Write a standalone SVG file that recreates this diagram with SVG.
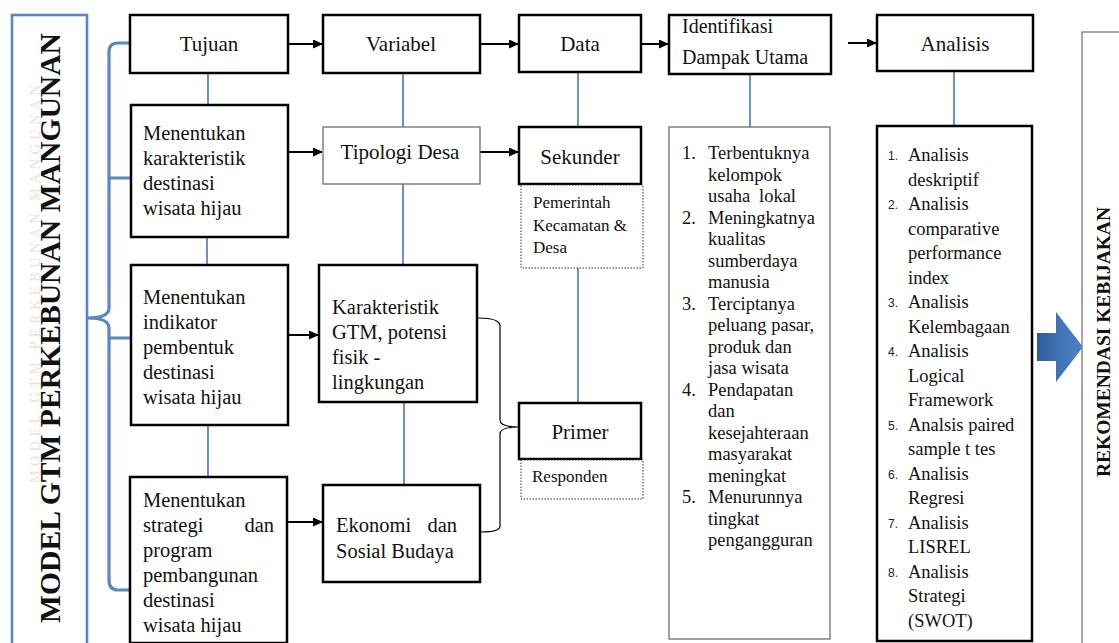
<svg xmlns="http://www.w3.org/2000/svg" width="1119" height="643" viewBox="0 0 1119 643">
<defs>
<style>
.box{fill:#fff;stroke:#000;stroke-width:2.5}
.thin{fill:#fff;stroke:#6e6e6e;stroke-width:1.3}
.dot{fill:#fff;stroke:#333;stroke-width:1;stroke-dasharray:1.5 1.5}
.t{font-family:"Liberation Serif","Times New Roman",serif;fill:#111}
.h{font-size:21px}
.b{font-size:20.5px}
.s{font-size:17px}
.l{font-size:18.5px}
.n{font-family:"Liberation Sans",Arial,sans-serif;font-size:12px;fill:#222}
.blue{fill:none;stroke:#5a86c3;stroke-width:1.8}
.brace{fill:none;stroke:#5a86c3;stroke-width:3.2;stroke-linejoin:round}
.arr{fill:none;stroke:#000;stroke-width:2;marker-end:url(#ah)}
</style>
<marker id="ah" markerUnits="userSpaceOnUse" markerWidth="10" markerHeight="10" refX="9" refY="4.5" orient="auto"><path d="M0,0 L10,4.5 L0,9 z" fill="#000"/></marker>
<linearGradient id="bg" x1="0" y1="0" x2="1" y2="0"><stop offset="0" stop-color="#2d5c9c"/><stop offset="0.45" stop-color="#3f72b3"/><stop offset="1" stop-color="#4f84c4"/></linearGradient>
</defs>
<rect width="1119" height="643" fill="#fff"/>

<g id="title">
<rect x="12" y="15" width="75" height="640" fill="#fff" stroke="#5a86c3" stroke-width="2.6"/>
<text class="t" transform="translate(40,284) rotate(-90)" text-anchor="middle" font-size="14" style="fill:#e4e4e4" textLength="398">MODEL GTM PERKEBUNAN MANGUNAN</text>
<text class="t" transform="translate(60,328) rotate(-90)" text-anchor="middle" font-size="29.5" font-weight="bold" textLength="590" lengthAdjust="spacingAndGlyphs">MODEL GTM PERKEBUNAN MANGUNAN</text>
</g>

<g id="connectors">
<path class="brace" d="M130,43 L118,43 Q109,43 109,52 L109,308 Q109,318 88,318 Q109,318 109,328 L109,580 Q109,590 118,590 L130,590"/>
<path class="brace" d="M109,178 L131,178 M109,338 L131,338"/>
<path class="blue" d="M208,73 V105 M207,237 V265 M208,425 V477 M403,73 V127 M403,184 V265 M404,402 V485 M578,72 V127 M578,268 V403 M750,74 V127 M954,71 V126"/>
<path class="arr" d="M288,44 H322"/>
<path class="arr" d="M480,44 H518"/>
<path class="arr" d="M641,44 H668"/>
<path class="arr" d="M848,43 H876"/>
<path class="arr" d="M288,152 H322"/>
<path class="arr" d="M480,152 H518"/>
<path class="arr" d="M288,335 H318"/>
<path class="arr" d="M287,522 H322"/>
<path d="M478,318 Q500,318 500,326 L500,420 Q500,427 519,427 Q500,427 500,434 L500,526 Q500,532 481,532" fill="none" stroke="#000" stroke-width="1.2"/>
<path d="M1037,333 H1056 V312 L1083,347 L1056,382 V361 H1037 Z" fill="url(#bg)"/>
</g>

<g id="tujuan"><rect class="box" x="130" y="15" width="158" height="58"/><text class="t h" x="209" y="51" text-anchor="middle">Tujuan</text></g>
<g id="variabel"><rect class="box" x="323" y="15" width="157" height="58"/><text class="t h" x="401" y="51" text-anchor="middle">Variabel</text></g>
<g id="data"><rect class="box" x="519" y="15" width="122" height="57"/><text class="t h" x="580" y="51" text-anchor="middle">Data</text></g>
<g id="identifikasi"><rect class="box" x="669" y="15" width="162" height="59"/><text class="t" font-size="20" x="682" y="33">Identifikasi</text><text class="t" font-size="20" x="682" y="64">Dampak Utama</text></g>
<g id="analisis"><rect class="box" x="877" y="15" width="156" height="56"/><text class="t h" x="955" y="51" text-anchor="middle">Analisis</text></g>

<g id="tujuan1"><rect class="box" x="131" y="105" width="157" height="132"/>
<text class="t b" x="143" y="140">Menentukan</text><text class="t b" x="143" y="165">karakteristik</text><text class="t b" x="143" y="190">destinasi</text><text class="t b" x="143" y="215">wisata hijau</text></g>
<g id="tujuan2"><rect class="box" x="131" y="265" width="157" height="160"/>
<text class="t b" x="143" y="304">Menentukan</text><text class="t b" x="143" y="329">indikator</text><text class="t b" x="143" y="354">pembentuk</text><text class="t b" x="143" y="379">destinasi</text><text class="t b" x="143" y="404">wisata hijau</text></g>
<g id="tujuan3"><rect class="box" x="130" y="477" width="157" height="166"/>
<text class="t b" x="143" y="507">Menentukan</text><text class="t b" x="143" y="532">strategi</text><text class="t b" x="274" y="532" text-anchor="end">dan</text><text class="t b" x="143" y="557">program</text><text class="t b" x="143" y="582">pembangunan</text><text class="t b" x="143" y="607">destinasi</text><text class="t b" x="143" y="632">wisata hijau</text></g>

<g id="tipologi"><rect class="thin" x="323" y="127" width="157" height="57"/><text class="t h" x="400" y="159" text-anchor="middle">Tipologi Desa</text></g>
<g id="karakteristik"><rect class="box" x="319" y="265" width="158" height="137"/>
<text class="t b" x="332" y="314">Karakteristik</text><text class="t b" x="332" y="339">GTM, potensi</text><text class="t b" x="332" y="364">fisik -</text><text class="t b" x="332" y="389">lingkungan</text></g>
<g id="ekonomi"><rect class="box" x="323" y="485" width="157" height="97"/>
<text class="t b" x="336" y="532">Ekonomi</text><text class="t b" x="457" y="532" text-anchor="end">dan</text><text class="t b" x="336" y="558">Sosial Budaya</text></g>

<g id="sekunder"><rect class="box" x="519" y="127" width="122" height="57"/><text class="t h" x="580" y="164" text-anchor="middle">Sekunder</text>
<rect class="dot" x="521" y="185" width="122" height="83"/>
<text class="t s" x="533" y="208">Pemerintah</text><text class="t s" x="533" y="231">Kecamatan &amp;</text><text class="t s" x="533" y="253">Desa</text></g>
<g id="primer"><rect class="box" x="519" y="403" width="122" height="56"/><text class="t h" x="580" y="439" text-anchor="middle">Primer</text>
<rect class="dot" x="521" y="460" width="122" height="39"/>
<text class="t s" x="532" y="482">Responden</text></g>

<g id="dampak"><rect class="thin" x="669" y="127" width="161" height="512"/>
<text class="t l" x="682" y="159">1.</text><text class="t l" x="708" y="159">Terbentuknya</text>
<text class="t l" x="708" y="180.5">kelompok</text>
<text class="t l" x="708" y="202">usaha</text><text class="t l" x="759" y="202">lokal</text>
<text class="t l" x="682" y="223.5">2.</text><text class="t l" x="708" y="223.5">Meningkatnya</text>
<text class="t l" x="708" y="245">kualitas</text>
<text class="t l" x="708" y="266.5">sumberdaya</text>
<text class="t l" x="708" y="288">manusia</text>
<text class="t l" x="682" y="309.5">3.</text><text class="t l" x="708" y="309.5">Terciptanya</text>
<text class="t l" x="708" y="331">peluang pasar,</text>
<text class="t l" x="708" y="352.5">produk dan</text>
<text class="t l" x="708" y="374">jasa wisata</text>
<text class="t l" x="682" y="395.5">4.</text><text class="t l" x="708" y="395.5">Pendapatan</text>
<text class="t l" x="708" y="417">dan</text>
<text class="t l" x="708" y="438.5">kesejahteraan</text>
<text class="t l" x="708" y="460">masyarakat</text>
<text class="t l" x="708" y="481.5">meningkat</text>
<text class="t l" x="682" y="503">5.</text><text class="t l" x="708" y="503">Menurunnya</text>
<text class="t l" x="708" y="524.5">tingkat</text>
<text class="t l" x="708" y="546">pengangguran</text></g>

<g id="metode"><rect class="box" x="877" y="126" width="155" height="515"/>
<text class="n" x="888" y="160">1.</text><text class="t l" x="908" y="161">Analisis</text>
<text class="t l" x="908" y="185.5">deskriptif</text>
<text class="n" x="888" y="209">2.</text><text class="t l" x="908" y="210">Analisis</text>
<text class="t l" x="908" y="234.5">comparative</text>
<text class="t l" x="908" y="259">performance</text>
<text class="t l" x="908" y="283.5">index</text>
<text class="n" x="888" y="307">3.</text><text class="t l" x="908" y="308">Analisis</text>
<text class="t l" x="908" y="332.5">Kelembagaan</text>
<text class="n" x="888" y="356">4.</text><text class="t l" x="908" y="357">Analisis</text>
<text class="t l" x="908" y="381.5">Logical</text>
<text class="t l" x="908" y="406">Framework</text>
<text class="n" x="888" y="430">5.</text><text class="t l" x="908" y="430.5">Analsis paired</text>
<text class="t l" x="908" y="455">sample t tes</text>
<text class="n" x="888" y="479">6.</text><text class="t l" x="908" y="479.5">Analisis</text>
<text class="t l" x="908" y="504">Regresi</text>
<text class="n" x="888" y="528">7.</text><text class="t l" x="908" y="528.5">Analisis</text>
<text class="t l" x="908" y="553">LISREL</text>
<text class="n" x="888" y="577">8.</text><text class="t l" x="908" y="577.5">Analisis</text>
<text class="t l" x="908" y="602">Strategi</text>
<text class="t l" x="908" y="626.5">(SWOT)</text></g>

<g id="rekomendasi"><rect x="1082" y="32" width="50" height="640" fill="#fff" stroke="#6e6e6e" stroke-width="1.2"/>
<text class="t" transform="translate(1110,342) rotate(-90)" text-anchor="middle" font-size="19" font-weight="bold" textLength="270" lengthAdjust="spacingAndGlyphs">REKOMENDASI KEBIJAKAN</text></g>
</svg>
